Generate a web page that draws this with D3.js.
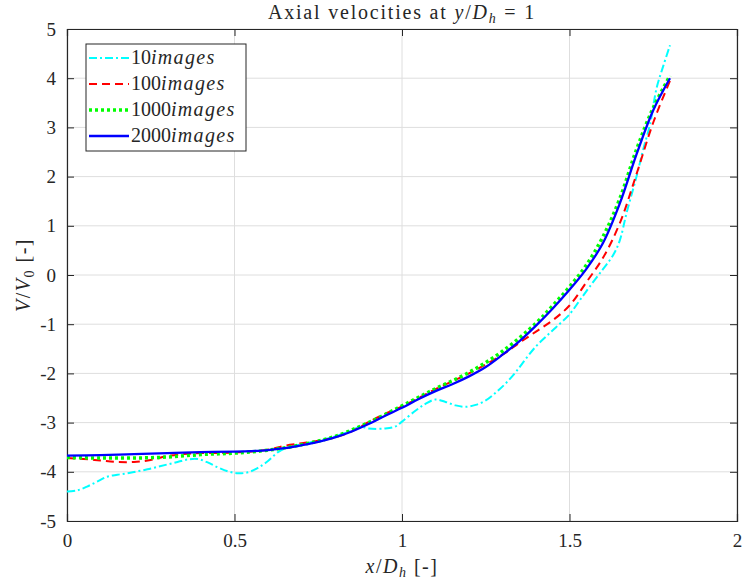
<!DOCTYPE html>
<html>
<head>
<meta charset="utf-8">
<script src="https://cdn.jsdelivr.net/npm/d3@7"></script>
<style>
  body { margin: 0; background: #fff; }
  text { font-family: "Liberation Serif", "DejaVu Serif", serif; fill: #262626; }
</style>
</head>
<body>
<script>
// data
let x10 = [0, 0.03, 0.06, 0.09, 0.12, 0.15, 0.18, 0.21, 0.24, 0.27, 0.30, 0.33, 0.36, 0.39, 0.42, 0.45, 0.48, 0.51, 0.54, 0.57, 0.60, 0.63, 0.66, 0.70, 0.75, 0.80, 0.85, 0.875, 0.9, 0.95, 0.98, 1.0, 1.04, 1.07, 1.1, 1.13, 1.16, 1.19, 1.22, 1.25, 1.28, 1.31, 1.34, 1.37, 1.40, 1.43, 1.46, 1.50, 1.53, 1.56, 1.60, 1.63, 1.65, 1.67, 1.70, 1.72, 1.74, 1.76, 1.78, 1.80];
let v10 = [-4.40, -4.38, -4.30, -4.20, -4.10, -4.06, -4.03, -3.99, -3.95, -3.90, -3.85, -3.80, -3.75, -3.74, -3.81, -3.91, -3.99, -4.03, -4.01, -3.92, -3.78, -3.60, -3.50, -3.44, -3.37, -3.28, -3.16, -3.08, -3.12, -3.12, -3.08, -2.98, -2.76, -2.62, -2.53, -2.58, -2.65, -2.68, -2.64, -2.55, -2.39, -2.20, -1.97, -1.70, -1.45, -1.25, -1.06, -0.80, -0.52, -0.24, 0.12, 0.40, 0.70, 1.25, 2.0, 2.55, 3.05, 3.8, 4.25, 4.67];

let x100 = [0, 0.05, 0.1, 0.15, 0.2, 0.25, 0.3, 0.35, 0.4, 0.5, 0.6, 0.65, 0.7, 0.75, 0.8, 0.85, 0.9, 0.95, 1.0, 1.05, 1.1, 1.2, 1.3, 1.35, 1.4, 1.45, 1.5, 1.55, 1.6, 1.65, 1.7, 1.75, 1.8];
let v100 = [-3.72, -3.74, -3.77, -3.80, -3.80, -3.76, -3.68, -3.64, -3.62, -3.61, -3.55, -3.47, -3.42, -3.37, -3.30, -3.18, -2.99, -2.82, -2.67, -2.50, -2.32, -2.00, -1.62, -1.38, -1.15, -0.92, -0.62, -0.15, 0.35, 1.05, 2.05, 3.1, 3.95];

let x1000 = [0, 0.1, 0.2, 0.3, 0.4, 0.5, 0.6, 0.7, 0.8, 0.9, 1.0, 1.1, 1.2, 1.3, 1.4, 1.45, 1.5, 1.55, 1.6, 1.65, 1.7, 1.75, 1.8];
let v1000 = [-3.71, -3.72, -3.72, -3.70, -3.65, -3.62, -3.56, -3.45, -3.28, -3.00, -2.66, -2.31, -1.98, -1.55, -0.98, -0.62, -0.24, 0.20, 0.78, 1.55, 2.55, 3.40, 4.05];

let x2000 = [0, 0.1, 0.2, 0.3, 0.4, 0.5, 0.55, 0.6, 0.65, 0.7, 0.75, 0.8, 0.85, 0.9, 0.95, 1.0, 1.05, 1.1, 1.15, 1.2, 1.25, 1.3, 1.35, 1.4, 1.45, 1.5, 1.55, 1.6, 1.65, 1.7, 1.75, 1.8];
let v2000 = [-3.67, -3.66, -3.64, -3.62, -3.60, -3.59, -3.58, -3.56, -3.52, -3.46, -3.39, -3.30, -3.18, -3.03, -2.86, -2.70, -2.52, -2.36, -2.22, -2.06, -1.87, -1.62, -1.35, -1.03, -0.68, -0.30, 0.12, 0.65, 1.45, 2.45, 3.35, 4.0];

let seriesNames = ['10', '100', '1000', '2000'];
let xTicks = [0, 0.5, 1, 1.5, 2];
let yTicks = [-5, -4, -3, -2, -1, 0, 1, 2, 3, 4, 5];

let margin = { top: 29, left: 67, bottom: 66, right: 6 };
let width = 743 - margin.left - margin.right;
let height = 587 - margin.top - margin.bottom;

let svg = d3.select('body').append('svg').attr('width', 743).attr('height', 587);
let g = svg.append('g').attr('transform', 'translate(' + margin.left + ',' + margin.top + ')');

let x = d3.scaleLinear().domain([0, 2]).range([0, width]);
let y = d3.scaleLinear().domain([-5, 5]).range([height, 0]);

// grid
g.append('g').selectAll('line').data(xTicks).enter().append('line')
  .attr('x1', d => x(d)).attr('x2', d => x(d)).attr('y1', 0).attr('y2', height)
  .attr('stroke', '#dedede').attr('stroke-width', 1);
g.append('g').selectAll('line').data(yTicks).enter().append('line')
  .attr('x1', 0).attr('x2', width).attr('y1', d => y(d)).attr('y2', d => y(d))
  .attr('stroke', '#dedede').attr('stroke-width', 1);

// axes, ticks pointing inwards on all four sides
let fmt = d => String(d);
let bottomAxis = d3.axisBottom(x).tickValues(xTicks).tickSize(-7).tickPadding(13).tickFormat(fmt);
let topAxis = d3.axisTop(x).tickValues(xTicks).tickSize(-7).tickFormat('');
let leftAxis = d3.axisLeft(y).tickValues(yTicks).tickSize(-7).tickPadding(11).tickFormat(fmt);
let rightAxis = d3.axisRight(y).tickValues(yTicks).tickSize(-7).tickFormat('');

g.append('g').attr('transform', 'translate(0,' + height + ')').call(bottomAxis);
g.append('g').call(topAxis);
g.append('g').call(leftAxis);
g.append('g').attr('transform', 'translate(' + width + ',0)').call(rightAxis);

g.selectAll('.domain').attr('stroke', '#262626').attr('stroke-width', 1.2);
g.selectAll('.tick line').attr('stroke', '#262626');
g.selectAll('.tick text').style('font-size', '19px').style('font-family', '"Liberation Serif", serif').attr('fill', '#262626');

// curves
let line = d3.line().x(d => x(d[0])).y(d => y(d[1])).curve(d3.curveCatmullRom);

let styles = [
  { color: '#00ffff', dash: '8,3,2,3', w: 2 },
  { color: '#ff0000', dash: '8,5', w: 2 },
  { color: '#00ff00', dash: '3,3', w: 3.5 },
  { color: '#0000ff', dash: null, w: 2.3 }
];
let allX = [x10, x100, x1000, x2000];
let allV = [v10, v100, v1000, v2000];

allX.forEach(function(xs, i) {
  let pts = xs.map((d, j) => [d, allV[i][j]]);
  g.append('path').datum(pts)
    .attr('d', line)
    .attr('fill', 'none')
    .attr('stroke', styles[i].color)
    .attr('stroke-width', styles[i].w)
    .attr('stroke-dasharray', styles[i].dash);
});

// legend
let legend = g.append('g').attr('transform', 'translate(19,15)');
legend.append('rect').attr('width', 160).attr('height', 107)
  .attr('fill', '#fff').attr('stroke', '#262626').attr('stroke-width', 1);
seriesNames.forEach(function(name, i) {
  let row = legend.append('g').attr('transform', 'translate(0,' + (14 + i * 26) + ')');
  row.append('line').attr('x1', 3).attr('x2', 43).attr('y1', 0).attr('y2', 0)
    .attr('stroke', styles[i].color).attr('stroke-width', styles[i].w)
    .attr('stroke-dasharray', styles[i].dash);
  let t = row.append('text').attr('x', 45).attr('y', 6).style('font-size', '20px');
  t.append('tspan').text(name);
  t.append('tspan').style('font-style', 'italic').style('letter-spacing', '1.3px').text('images');
});

// title
let title = svg.append('text').attr('x', margin.left + width / 2).attr('y', 19)
  .attr('text-anchor', 'middle').style('font-size', '20px').style('letter-spacing', '1.8px');
title.append('tspan').text('Axial velocities at ');
title.append('tspan').style('font-style', 'italic').text('y');
title.append('tspan').text('/');
title.append('tspan').style('font-style', 'italic').text('D');
title.append('tspan').style('font-style', 'italic').style('font-size', '14px').attr('dy', 4).text('h');
title.append('tspan').attr('dy', -4).text(' = 1');

// x label
let xl = svg.append('text').attr('x', margin.left + width / 2).attr('y', 573)
  .attr('text-anchor', 'middle').style('font-size', '20px').style('letter-spacing', '1.5px');
xl.append('tspan').style('font-style', 'italic').text('x');
xl.append('tspan').text('/');
xl.append('tspan').style('font-style', 'italic').text('D');
xl.append('tspan').style('font-style', 'italic').style('font-size', '14px').attr('dy', 4).text('h');
xl.append('tspan').attr('dy', -4).text('  [-]');

// y label
let yl = svg.append('text').attr('transform', 'translate(30,' + (margin.top + height / 2) + ') rotate(-90)')
  .attr('text-anchor', 'middle').style('font-size', '20px').style('letter-spacing', '1.5px');
yl.append('tspan').style('font-style', 'italic').text('V');
yl.append('tspan').text('/');
yl.append('tspan').style('font-style', 'italic').text('V');
yl.append('tspan').style('font-size', '14px').attr('dy', 4).text('0');
yl.append('tspan').attr('dy', -4).text('  [-]');
</script>
</body>
</html>
